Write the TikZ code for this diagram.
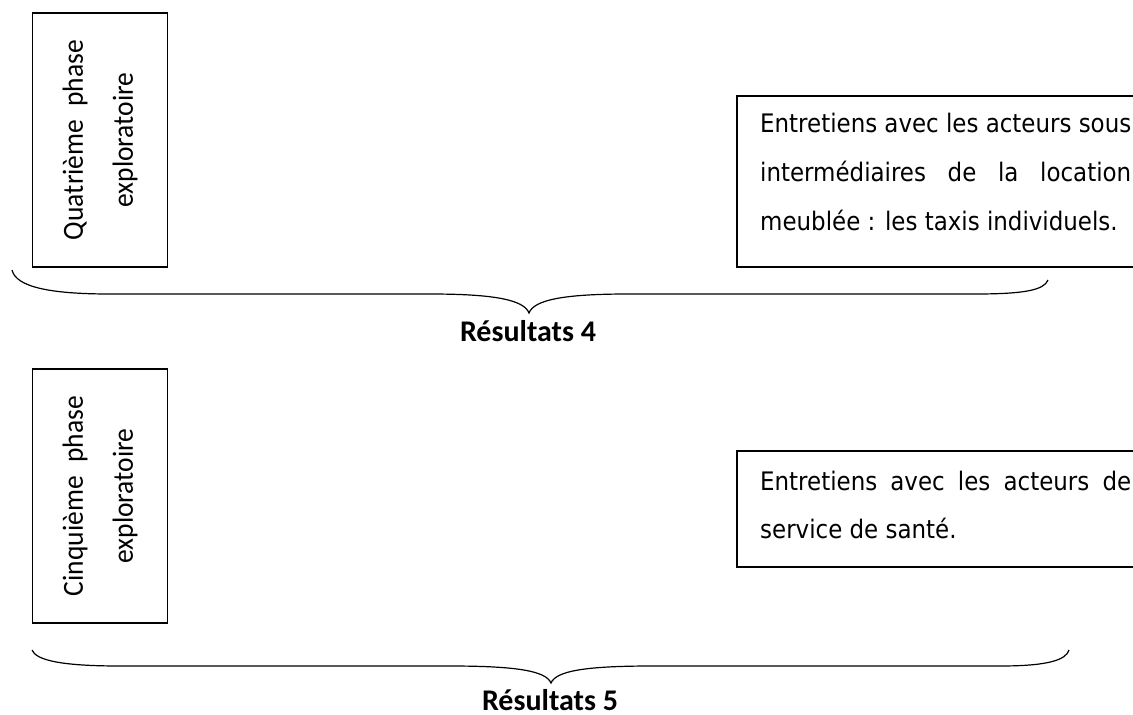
\documentclass[tikz,border=0pt]{standalone}
\usepackage{fontspec}
\usepackage{graphicx}
\setmainfont{Carlito}
\newfontfamily\tah{DejaVu Sans Condensed}
\newcommand{\tallline}[1]{\scalebox{1}[1.06]{#1}}
\begin{document}
\begin{tikzpicture}[x=1pt,y=1pt,
  frame/.style={draw=black,line width=1.2pt},
  rline/.style={font=\tah\fontsize{25.5}{49}\selectfont, anchor=base west, inner sep=0pt},
  vtext/.style={font=\fontsize{27.5}{50}\selectfont, rotate=90, align=center, inner sep=0pt},
  restxt/.style={font=\bfseries\fontsize{30}{36}\selectfont, anchor=base, inner sep=0pt},
  bracepath/.style={line width=1.2pt}]
\useasboundingbox (0,0) rectangle (1133,-715);
\clip (0,0) rectangle (1133,-715);

% left vertical boxes
\node[frame, vtext, minimum width=254pt, minimum height=135pt] (q4) at (100,-140)
  {\tallline{\makebox[200pt][s]{Quatrième phase}}\\\tallline{exploratoire}};
\node[frame, vtext, minimum width=254pt, minimum height=135pt] (c5) at (100,-496)
  {\tallline{\makebox[200pt][s]{Cinquième phase}}\\\tallline{exploratoire}};

% right boxes (running past the right edge)
\draw[frame] (737,-96) rectangle (1150,-267);
\node[rline] (e4a) at (760,-132) {\makebox[371pt][s]{Entretiens avec les acteurs sous}};
\node[rline] (e4b) at (760,-181) {\makebox[371pt][s]{intermédiaires de la location}};
\node[rline] (e4c) at (760,-230) {meublée : les taxis individuels.};

\draw[frame] (737,-451) rectangle (1150,-567);
\node[rline] (e5a) at (760,-490) {\makebox[371pt][s]{Entretiens avec les acteurs de}};
\node[rline] (e5b) at (760,-538) {service de santé.};

% braces
\coordinate (b4l) at (12,-270);
\coordinate (b4t) at (529,-313);
\coordinate (b4r) at (1048,-280);
\draw[bracepath] (b4l) .. controls (16,-287) and (50,-294) .. (110,-294) -- (430,-294)
  .. controls (495,-294) and (524,-300) .. (b4t)
  .. controls (534,-300) and (563,-294) .. (628,-294) -- (975,-294)
  .. controls (1025,-294) and (1044,-290) .. (b4r);

\coordinate (b5l) at (32,-650);
\coordinate (b5t) at (551,-683);
\coordinate (b5r) at (1069,-650);
\draw[bracepath] (b5l) .. controls (36,-660) and (60,-666) .. (120,-666) -- (450,-666)
  .. controls (517,-666) and (546,-671) .. (b5t)
  .. controls (556,-671) and (585,-666) .. (652,-666) -- (1000,-666)
  .. controls (1048,-666) and (1066,-660) .. (b5r);

\node[restxt] (r4) at (528,-341) {Résultats 4};
\node[restxt] (r5) at (550,-710) {Résultats 5};
\end{tikzpicture}
\end{document}
